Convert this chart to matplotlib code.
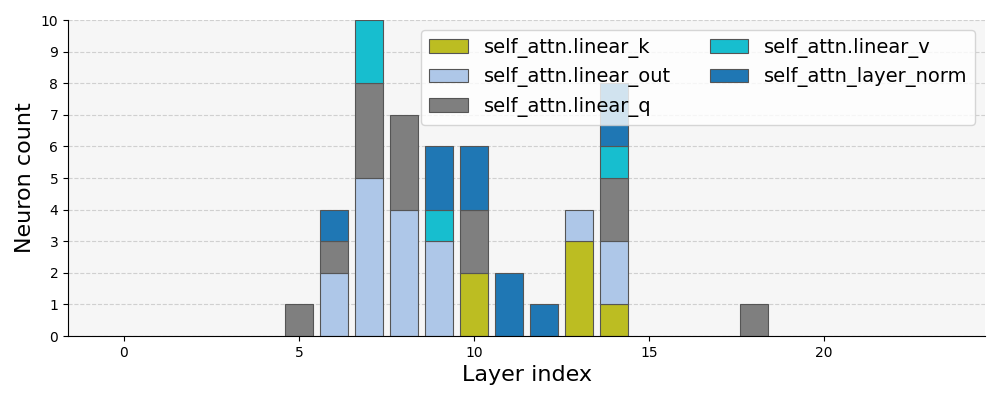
import matplotlib
matplotlib.use("Agg")
import matplotlib.pyplot as plt
import numpy as np

layers = np.arange(24)
modules = ["self_attn.linear_k", "self_attn.linear_out", "self_attn.linear_q",
           "self_attn.linear_v", "self_attn_layer_norm"]
colors = ["#bcbd22", "#aec7e8", "#7f7f7f", "#17becf", "#1f77b4"]

# neuron counts per layer (index = layer)
linear_k = [0, 0, 0, 0, 0, 0, 0, 0, 0, 0, 2, 0, 0, 3, 1, 0, 0, 0, 0, 0, 0, 0, 0, 0]
linear_out = [0, 0, 0, 0, 0, 0, 2, 5, 4, 3, 0, 0, 0, 1, 2, 0, 0, 0, 0, 0, 0, 0, 0, 0]
linear_q = [0, 0, 0, 0, 0, 1, 1, 3, 3, 0, 2, 0, 0, 0, 2, 0, 0, 0, 1, 0, 0, 0, 0, 0]
linear_v = [0, 0, 0, 0, 0, 0, 0, 2, 0, 1, 0, 0, 0, 0, 1, 0, 0, 0, 0, 0, 0, 0, 0, 0]
layer_norm = [0, 0, 0, 0, 0, 0, 1, 0, 0, 2, 2, 2, 1, 0, 2, 0, 0, 0, 0, 0, 0, 0, 0, 0]
series = [linear_k, linear_out, linear_q, linear_v, layer_norm]

fig, ax = plt.subplots(figsize=(10, 4), dpi=100)
fig.subplots_adjust(left=0.068, right=0.985, top=0.95, bottom=0.16)
ax.set_facecolor("#f6f6f6")
ax.set_axisbelow(True)
ax.grid(axis="y", linestyle="--", color="#d0d0d0", linewidth=0.8)

bottom = np.zeros(len(layers))
for name, vals, c in zip(modules, series, colors):
    vals = np.array(vals)
    lw = np.where(vals > 0, 0.8, 0.0)  # hide edges of empty bars
    ax.bar(layers, vals, bottom=bottom, color=c, edgecolor="#555555",
           linewidth=lw, width=0.8, label=name)
    bottom += vals

ax.set_ylim(0, 10)
ax.set_yticks(range(11))
ax.set_xlabel("Layer index", fontsize=16)
ax.set_ylabel("Neuron count", fontsize=16)
ax.spines["top"].set_visible(False)
ax.spines["right"].set_visible(False)
leg = ax.legend(ncol=2, fontsize=14, loc="upper right")
for h in leg.legend_handles:
    h.set_linewidth(0.8)
    h.set_edgecolor("#555555")

plt.savefig("out.png")
